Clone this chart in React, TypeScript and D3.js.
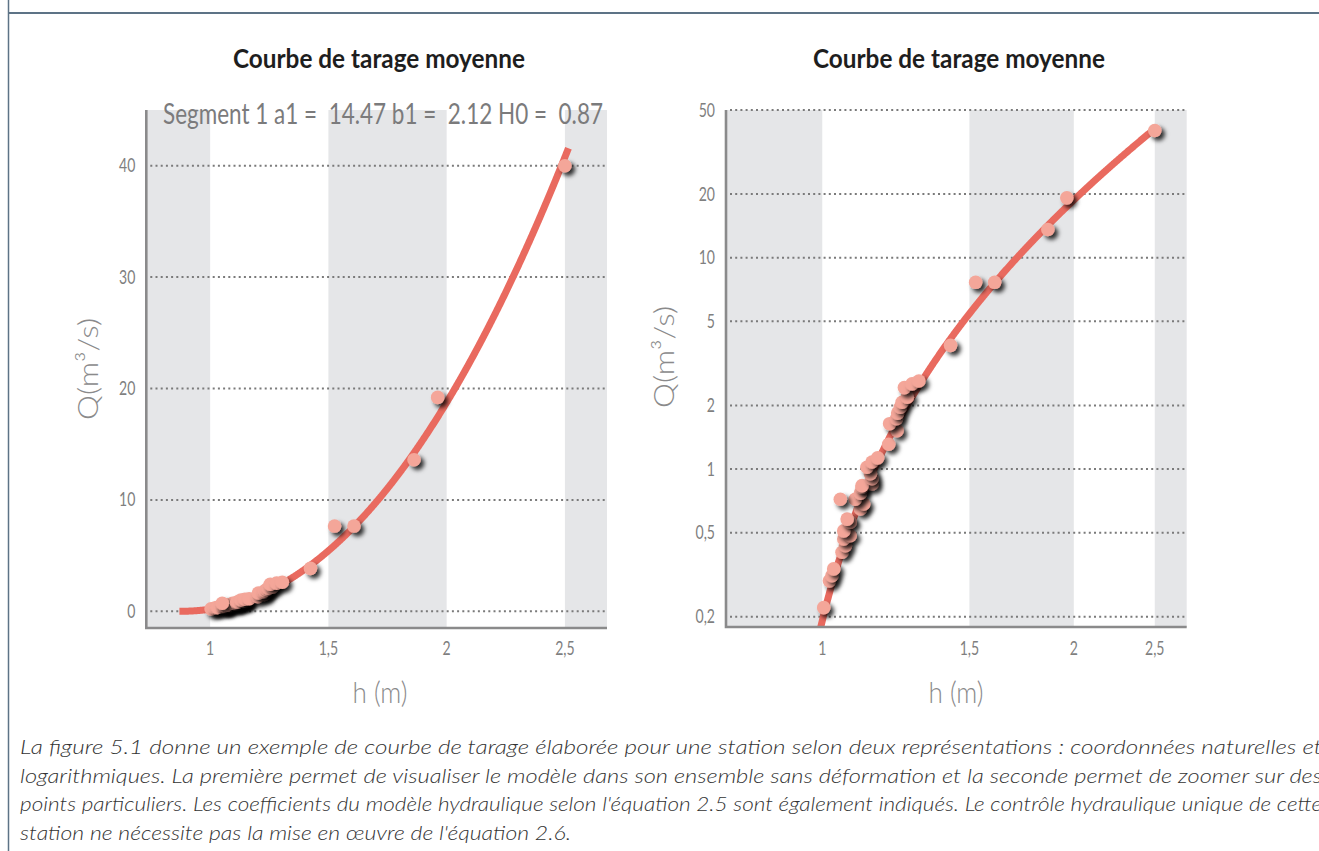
import React from 'react';
import * as d3 from 'd3';

// ---------- data ----------
const TITLE = 'Courbe de tarage moyenne';
const A1 = 14.47;
const B1 = 2.12;
const H0 = 0.87;

const hObs = [
  1.004, 1.020, 1.027, 1.032, 1.056, 1.066, 1.061, 1.080, 1.061, 1.080,
  1.071, 1.111, 1.121, 1.095, 1.051, 1.111, 1.116, 1.147, 1.116, 1.147,
  1.142, 1.131, 1.147, 1.165, 1.201, 1.229, 1.204, 1.227, 1.231, 1.240,
  1.246, 1.264, 1.254, 1.281, 1.305, 1.424, 1.526, 1.608, 1.862, 1.962, 2.5,
];
const qObs = [
  0.221, 0.296, 0.313, 0.337, 0.404, 0.434, 0.467, 0.484, 0.51, 0.56,
  0.58, 0.647, 0.684, 0.72, 0.72, 0.77, 0.82, 0.85, 0.835, 0.9,
  0.95, 1.02, 1.08, 1.13, 1.31, 1.52, 1.64, 1.73, 1.84, 1.96,
  2.07, 2.19, 2.43, 2.53, 2.61, 3.85, 7.65, 7.65, 13.6, 19.2, 40,
];

const linTicks = [0, 10, 20, 30, 40];
const linTickLabels = ['0', '10', '20', '30', '40'];
const logTicks = [0.2, 0.5, 1, 2, 5, 10, 20, 50];
const logTickLabels = ['0,2', '0,5', '1', '2', '5', '10', '20', '50'];
const xTicks = [1, 1.5, 2, 2.5];
const xTickLabels = ['1', '1,5', '2', '2,5'];
const bandEdges = [1, 1.5, 2, 2.5];

const caption = [
  'La figure 5.1 donne un exemple de courbe de tarage élaborée pour une station selon deux représentations : coordonnées naturelles et',
  'logarithmiques. La première permet de visualiser le modèle dans son ensemble sans déformation et la seconde permet de zoomer sur des',
  "points particuliers. Les coefficients du modèle hydraulique selon l'équation 2.5 sont également indiqués. Le contrôle hydraulique unique de cette",
  "station ne nécessite pas la mise en œuvre de l'équation 2.6.",
];

// ---------- style ----------
const FONT = "Lato,'Open Sans',Roboto,sans-serif";
const BAND = '#e5e6e8';
const AXIS = '#8a8a8b';
const GRID = '#7a7a7a';
const CURVE = '#e96a5f';
const POINT = '#f4a699';
const TICK = '#7f7f7f';

const rating = (h: number) => A1 * Math.pow(Math.max(h - H0, 0), B1);

function CText({ x, y, s = 0.8, anchor = 'middle', size = 18.5, fill = TICK, weight = 400, children }: any) {
  return (
    <text
      transform={`translate(${x},${y}) scale(${s},1)`}
      textAnchor={anchor}
      fontSize={size}
      fill={fill}
      fontWeight={weight}
      fontFamily={FONT}
    >
      {children}
    </text>
  );
}

type PanelProps = {
  id: string;
  x: any;
  y: any;
  left: number;
  right: number;
  top: number;
  bottom: number;
  yTicks: number[];
  yLabels: string[];
  hStart: number;
  hEnd: number;
  titleX: number;
  yLabelPos: [number, number];
  xLabelX: number;
  segment?: boolean;
};

function Panel(p: PanelProps) {
  const { x, y, left, right, top, bottom } = p;
  const dom = x.domain();
  const edges = [dom[0], ...bandEdges, dom[1]];
  const hs = d3.range(p.hStart, p.hEnd, 0.002).concat([p.hEnd]);
  const line = d3
    .line<number>()
    .x((h) => x(h))
    .y((h) => y(rating(h)));
  return (
    <g>
      <defs>
        <clipPath id={`clip-${p.id}`}>
          <rect x={left} y={top - 5} width={right - left} height={bottom - top + 5} />
        </clipPath>
      </defs>
      {edges.slice(0, -1).map((e, i) =>
        i % 2 === 0 ? (
          <rect key={i} x={x(e)} y={top} width={x(edges[i + 1]) - x(e)} height={bottom - top} fill={BAND} />
        ) : null
      )}
      {p.yTicks.map((t, i) => (
        <g key={i}>
          <line x1={left + 4} x2={right} y1={y(t)} y2={y(t)} stroke={GRID} strokeWidth={2} strokeDasharray="2 3.2" />
          <CText x={left - 11} y={y(t) + 6.5} anchor="end" s={0.76}>
            {p.yLabels[i]}
          </CText>
        </g>
      ))}
      {xTicks.map((t, i) => (
        <CText key={i} x={x(t)} y={655} s={0.76}>
          {xTickLabels[i]}
        </CText>
      ))}
      <path d={line(hs) || ''} fill="none" stroke={CURVE} strokeWidth={7} clipPath={`url(#clip-${p.id})`} />
      {hObs.map((h, i) => (
        <circle key={i} cx={x(h)} cy={y(qObs[i])} r={6.8} fill={POINT} filter="url(#shadow)" />
      ))}
      <path d={`M${left},${top}V${bottom}H${right}`} fill="none" stroke={AXIS} strokeWidth={2.6} />
      <text x={p.titleX} y={68} textAnchor="middle" fontSize={26} fontWeight="bold" fill="#1e1e1e" fontFamily={FONT} textLength={292} lengthAdjust="spacingAndGlyphs">
        {TITLE}
      </text>
      {p.segment && (
        <text x={163} y={124} fontSize={28} fill="#7b7b7c" fontFamily={FONT} textLength={440} lengthAdjust="spacingAndGlyphs" style={{ whiteSpace: 'pre' }}>
          {`Segment 1 a1 =  ${A1.toFixed(2)} b1 =  ${B1.toFixed(2)} H0 =  ${H0.toFixed(2)}`}
        </text>
      )}
      <text transform={`translate(${p.yLabelPos[0]},${p.yLabelPos[1]}) rotate(-90)`} textAnchor="middle" fontSize={28} fontWeight={300} fill={AXIS} fontFamily={FONT} textLength={102} lengthAdjust="spacingAndGlyphs">
        Q(m³/s)
      </text>
      <text x={p.xLabelX} y={703} textAnchor="middle" fontSize={29} fontWeight={300} fill={AXIS} fontFamily={FONT} textLength={55} lengthAdjust="spacingAndGlyphs">
        h (m)
      </text>
    </g>
  );
}

export default function App() {
  const xL = d3.scaleLinear().domain([0.73, 2.678]).range([146.3, 607]);
  const yL = d3.scaleLinear().domain([-1.5, 45]).range([628, 110]);
  const xR = d3.scaleLog().domain([0.767, 2.73]).range([726, 1186.7]);
  const yR = d3.scaleLog().domain([0.179, 50]).range([627, 110]);

  return (
    <svg width={1319} height={851} style={{ position: 'absolute', left: 0, top: 0, display: 'block', background: '#fff' }}>
      <defs>
        <filter id="shadow" x="-60%" y="-60%" width="250%" height="250%">
          <feDropShadow dx={3.5} dy={3.5} stdDeviation={2.3} floodColor="#000" floodOpacity={0.8} />
        </filter>
      </defs>
      <rect x={0} y={0} width={1319} height={851} fill="#fff" />
      <line x1={8.5} x2={8.5} y1={0} y2={851} stroke="#5d7386" strokeWidth={1.5} />
      <line x1={8} x2={1319} y1={13} y2={13} stroke="#5d7386" strokeWidth={2} />

      <Panel
        id="lin"
        x={xL}
        y={yL}
        left={146.3}
        right={607}
        top={110}
        bottom={628}
        yTicks={linTicks}
        yLabels={linTickLabels}
        hStart={H0}
        hEnd={2.515}
        titleX={379}
        yLabelPos={[98, 369]}
        xLabelX={380}
        segment
      />
      <Panel
        id="log"
        x={xR}
        y={yR}
        left={726}
        right={1186.7}
        top={110}
        bottom={627}
        yTicks={logTicks}
        yLabels={logTickLabels}
        hStart={0.95}
        hEnd={2.5}
        titleX={959}
        yLabelPos={[674, 357]}
        xLabelX={956}
      />

      {caption.map((c, i) => (
        <text
          key={i}
          x={20}
          y={754 + i * 28.5}
          fontSize={20}
          fontStyle="italic"
          fontWeight={300}
          fill="#333"
          fontFamily={FONT}
          textLength={i < 3 ? 1302 : 551}
          lengthAdjust="spacingAndGlyphs"
        >
          {c}
        </text>
      ))}
    </svg>
  );
}
